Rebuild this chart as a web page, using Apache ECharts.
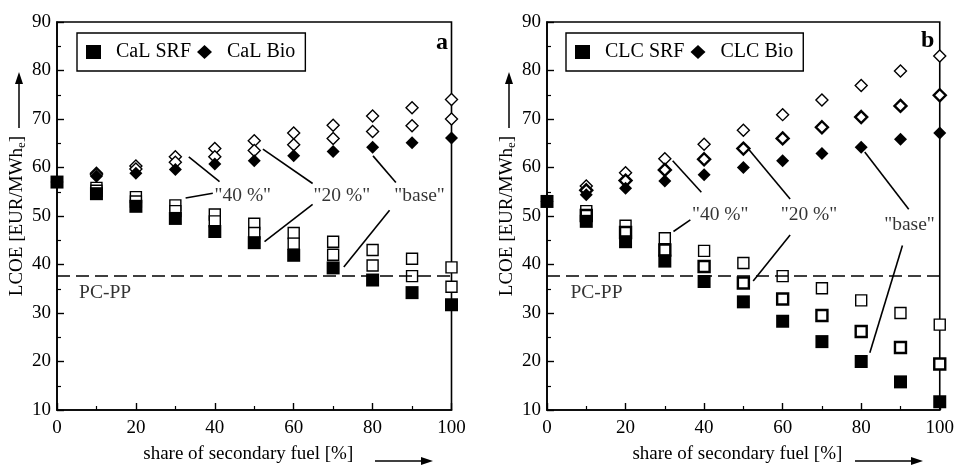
<!DOCTYPE html>
<html>
<head>
<meta charset="utf-8">
<script src="https://cdn.jsdelivr.net/npm/echarts@6/dist/echarts.min.js"></script>
<style>
  html, body { margin: 0; padding: 0; background: #fff; }
  #main { width: 957px; height: 469px; }
</style>
</head>
<body>
<div id="main"></div>
<script>
// share of secondary fuel [%]
var shares = [0, 10, 20, 30, 40, 50, 60, 70, 80, 90, 100];

// panel a: CaL  (base = filled, "20 %" / "40 %" = open)
var calSrfBase = [57, 54.6, 52.0, 49.5, 46.8, 44.5, 41.9, 39.3, 36.8, 34.2, 31.7];
var calSrf20   = [null, 55.2, 53.0, 51.0, 48.9, 46.5, 44.3, 42.0, 39.8, 37.6, 35.4];
var calSrf40   = [null, 55.8, 53.9, 52.2, 50.3, 48.4, 46.5, 44.7, 43.0, 41.2, 39.4];
var calBioBase = [57, 58.2, 58.8, 59.6, 60.7, 61.4, 62.4, 63.3, 64.2, 65.1, 66.1];
var calBio20   = [null, 58.5, 59.7, 61.1, 62.2, 63.5, 64.7, 66.0, 67.4, 68.6, 70.0];
var calBio40   = [null, 58.8, 60.3, 62.2, 63.9, 65.5, 67.1, 68.7, 70.6, 72.3, 74.0];

// panel b: CLC
var clcSrfBase = [53, 48.9, 44.7, 40.7, 36.5, 32.3, 28.3, 24.1, 20.0, 15.8, 11.7];
var clcSrf20   = [null, 50.1, 46.6, 43.0, 39.6, 36.2, 32.9, 29.5, 26.2, 22.9, 19.5];
var clcSrf40   = [null, 51.0, 48.0, 45.4, 42.8, 40.3, 37.6, 35.1, 32.6, 30.0, 27.6];
var clcBioBase = [53, 54.4, 55.7, 57.2, 58.5, 60.0, 61.4, 62.9, 64.2, 65.8, 67.1];
var clcBio20   = [null, 55.3, 57.3, 59.5, 61.7, 63.9, 66.0, 68.3, 70.4, 72.7, 74.9];
var clcBio40   = [null, 56.2, 58.9, 61.8, 64.8, 67.7, 70.9, 73.9, 76.9, 79.9, 83.0];

// reference plant
var pcPP = 37.7;

// annotation labels [x, y, text] and leader lines [[x1,y1],[x2,y2]] in data units
var calLabels = [[47.1, 54.1, '"40 %"'], [72.2, 54.1, '"20 %"'], [91.9, 54.1, '"base"'], [12.2, 34.2, 'PC-PP']];
var calLeaders = [
  [[33.4, 62.2], [41.2, 57.1]], [[32.6, 53.7], [39.5, 54.7]],
  [[52.2, 63.8], [64.8, 56.7]], [[64.8, 52.4], [52.6, 44.7]],
  [[80.1, 62.4], [85.9, 56.9]], [[84.3, 51.2], [72.7, 39.5]]
];
var clcLabels = [[44.1, 50.2, '"40 %"'], [66.7, 50.2, '"20 %"'], [92.3, 48.2, '"base"'], [12.6, 34.2, 'PC-PP']];
var clcLeaders = [
  [[32.0, 61.4], [39.3, 54.9]], [[36.5, 49.2], [32.2, 46.8]],
  [[51.5, 63.6], [61.9, 53.5]], [[61.9, 46.1], [52.5, 36.6]],
  [[80.9, 63.2], [92.1, 51.4]], [[90.5, 43.9], [82.2, 21.8]]
];

var FONT = '"Liberation Serif", "DejaVu Serif", serif';

function pairs(vals) {
  var out = [];
  for (var i = 0; i < shares.length; i++) {
    if (vals[i] != null) out.push([shares[i], vals[i]]);
  }
  return out;
}

function scatter(name, idx, vals, symbol, size, filled, bw) {
  return {
    name: name, type: 'scatter', xAxisIndex: idx, yAxisIndex: idx,
    symbol: symbol, symbolSize: size, clip: false, silent: true,
    itemStyle: filled ? { color: '#000', opacity: 1 } : { color: '#fff', borderColor: '#000', borderWidth: bw, opacity: 1 },
    data: pairs(vals)
  };
}

function annot(idx, labels, leaders) {
  return {
    type: 'scatter', xAxisIndex: idx, yAxisIndex: idx, symbolSize: 0, silent: true, clip: false,
    data: labels,
    label: {
      show: true, position: 'inside', color: '#000', fontFamily: FONT, fontSize: 19.5,
      formatter: function (p) { return p.value[2]; }
    },
    markLine: {
      silent: true, symbol: 'none', animation: false,
      label: { show: false },
      lineStyle: { color: '#000', width: 1.6, type: 'solid', opacity: 1 },
      data: leaders.map(function (l) { return [{ coord: l[0] }, { coord: l[1] }]; })
        .concat([[{ coord: [0, pcPP], lineStyle: { type: [13, 6], width: 1.6 } }, { coord: [100, pcPP], lineStyle: { type: [13, 6], width: 1.6 } }]])
    }
  };
}

function xAx(idx) {
  return {
    type: 'value', gridIndex: idx, min: 0, max: 100, interval: 20,
    name: 'share of secondary fuel [%]', nameLocation: 'middle', nameGap: 35,
    nameTextStyle: { fontFamily: FONT, fontSize: 19, color: '#000', padding: [0, 12, 0, 0] },
    axisLine: { show: true, lineStyle: { color: '#000', width: 1.6 } },
    axisTick: { show: true, inside: true, length: 7, lineStyle: { color: '#000', width: 1.4 } },
    minorTick: { show: true, splitNumber: 2, length: 4, lineStyle: { color: '#000', width: 1.2 } },
    axisLabel: { fontFamily: FONT, fontSize: 19, color: '#000', margin: 9 },
    splitLine: { show: false }
  };
}

function yAx(idx) {
  return {
    type: 'value', gridIndex: idx, min: 10, max: 90, interval: 10,
    name: '{t|LCOE [EUR/MWh}{s|e}{t|]}', nameLocation: 'middle', nameGap: 20, nameRotate: 90,
    nameTextStyle: {
      color: '#000',
      rich: {
        t: { fontFamily: FONT, fontSize: 19, color: '#000' },
        s: { fontFamily: FONT, fontSize: 13, color: '#000', verticalAlign: 'bottom', padding: [9, 0, 0, 0] }
      }
    },
    axisLine: { show: true, lineStyle: { color: '#000', width: 1.6 } },
    axisTick: { show: true, inside: true, length: 7, lineStyle: { color: '#000', width: 1.4 } },
    minorTick: { show: true, splitNumber: 2, length: 4, lineStyle: { color: '#000', width: 1.2 } },
    axisLabel: { fontFamily: FONT, fontSize: 19, color: '#000', margin: 6 },
    splitLine: { show: false }
  };
}

function legend(left, names) {
  return {
    left: left, top: 33, orient: 'horizontal',
    data: [{ name: names[0], icon: 'rect' }, { name: names[1], icon: 'diamond' }],
    itemWidth: 15, itemHeight: 14, itemGap: 6,
    padding: [9, 10, 9, 9], borderColor: '#000', borderWidth: 1.4,
    selectedMode: false,
    textStyle: { fontFamily: FONT, fontSize: 20, color: '#000', padding: [0, 0, 0, 10] }
  };
}

function arrow(x1, y1, x2, y2) {
  // straight arrow with a filled head at (x2, y2)
  var dx = x2 - x1, dy = y2 - y1, len = Math.sqrt(dx * dx + dy * dy);
  var ux = dx / len, uy = dy / len, hl = 12, hw = 4;
  var bx = x2 - ux * hl, by = y2 - uy * hl;
  return [
    { type: 'line', shape: { x1: x1, y1: y1, x2: bx, y2: by }, style: { stroke: '#000', lineWidth: 1.5 } },
    { type: 'polygon', shape: { points: [[x2, y2], [bx - uy * hw, by + ux * hw], [bx + uy * hw, by - ux * hw]] }, style: { fill: '#000' } }
  ];
}

var myChart = echarts.init(document.getElementById('main'));
var option = {
  backgroundColor: '#fff',
  animation: false,
  title: [
    { text: 'a', left: 431, top: 26, textStyle: { fontFamily: FONT, fontSize: 24, fontWeight: 'bold', color: '#000' } },
    { text: 'b', left: 916, top: 24, textStyle: { fontFamily: FONT, fontSize: 24, fontWeight: 'bold', color: '#000' } }
  ],
  legend: [legend(77, ['CaL SRF', 'CaL Bio']), legend(566, ['CLC SRF', 'CLC Bio'])],
  grid: [
    { left: 57, right: 505.5, top: 22, bottom: 53, show: true, borderColor: '#000', borderWidth: 1.6, containLabel: false },
    { left: 547, right: 15.5, top: 22, bottom: 53, show: true, borderColor: '#000', borderWidth: 1.6, containLabel: false }
  ],
  xAxis: [xAx(0), xAx(1)],
  yAxis: [yAx(0), yAx(1)],
  graphic: [].concat(arrow(19, 128, 19, 72), arrow(375, 461, 433, 461),
                     arrow(509, 128, 509, 72), arrow(855, 461, 923, 461)),
  series: [
    scatter('CaL SRF 40', 0, calSrf40, 'rect', 11, false, 1.4),
    scatter('CaL SRF 20', 0, calSrf20, 'rect', 11, false, 1.4),
    scatter('CaL Bio 40', 0, calBio40, 'diamond', 12, false, 1.4),
    scatter('CaL Bio 20', 0, calBio20, 'diamond', 12, false, 1.4),
    scatter('CaL SRF', 0, calSrfBase, 'rect', 13, true),
    scatter('CaL Bio', 0, calBioBase, 'diamond', 13, true),
    annot(0, calLabels, calLeaders),

    scatter('CLC SRF 40', 1, clcSrf40, 'rect', 11, false, 1.4),
    scatter('CLC SRF 20', 1, clcSrf20, 'rect', 11, false, 2.4),
    scatter('CLC Bio 40', 1, clcBio40, 'diamond', 12, false, 1.4),
    scatter('CLC Bio 20', 1, clcBio20, 'diamond', 12, false, 2.4),
    scatter('CLC SRF', 1, clcSrfBase, 'rect', 13, true),
    scatter('CLC Bio', 1, clcBioBase, 'diamond', 13, true),
    annot(1, clcLabels, clcLeaders)
  ]
};
myChart.setOption(option);
</script>
</body>
</html>
